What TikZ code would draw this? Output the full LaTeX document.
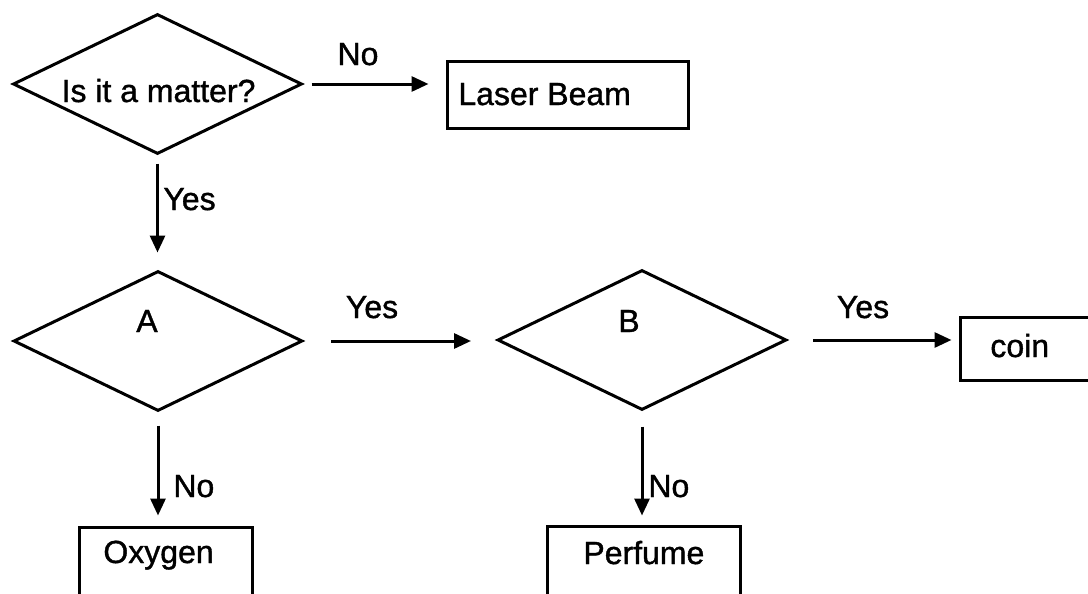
\documentclass[tikz,border=0pt]{standalone}
\usepackage{fontspec}
\setmainfont{Liberation Sans}
\newfontfamily\heavyfont{Liberation Sans}[FakeBold=1.2]
\usetikzlibrary{shapes.geometric,arrows.meta}
\tikzset{
  ln/.style={line width=1.5pt, line join=miter},
  dia/.style={ln, draw, shape=diamond, minimum width=144.5pt, minimum height=70pt, inner sep=0pt},
  boxnode/.style={ln, draw, shape=rectangle, inner sep=0pt},
  txt/.style={inner sep=0pt, font=\heavyfont\fontsize{16}{19}\selectfont},
  arr/.style={ln, -{Triangle[length=8.5pt,width=7.5pt]}},
}
\begin{document}
\begin{tikzpicture}[x=0.5pt, y=-0.5pt]
\useasboundingbox (0,0) rectangle (1088,594);
\clip (0,0) rectangle (1088,594);
\fill[white] (0,0) rectangle (1088,594);

% decision shapes
\node[dia] (d1) at (157.5,84) {};
\node[dia] (dA) at (158,341) {};
\node[dia] (dB) at (642,340) {};

% boxes
\node[boxnode, minimum width=120.5pt, minimum height=33.5pt] (laser) at (567.5,94.5) {};
\node[boxnode, minimum width=89pt, minimum height=31.5pt] (coin) at (1049,348.5) {};
\node[boxnode, minimum width=86.5pt, minimum height=45pt] (oxy) at (165.5,572) {};
\node[boxnode, minimum width=96.5pt, minimum height=45pt] (perf) at (643.5,571) {};

% texts
\node[txt, anchor=base] (t1) at (158.5,102) {Is it a matter?};
\node[txt, anchor=base] (tA) at (147,332) {A};
\node[txt, anchor=base] (tB) at (629,332) {B};
\node[txt, anchor=base west] (tlaser) at (458,105) {Laser Beam};
\node[txt, anchor=base west] (tcoin) at (990,357) {coin};
\node[txt, anchor=base west] (toxy) at (103,563) {Oxygen};
\node[txt, anchor=base west] (tperf) at (583,564) {Perfume};

% connectors
\draw[arr, shorten <=4pt, shorten >=8.5pt] (d1.east) -- (d1.east -| laser.west);
\draw[arr, shorten <=4pt, shorten >=8.5pt] (d1.south) -- (d1.south |- dA.north);
\draw[arr, shorten <=13.5pt, shorten >=12.5pt] (dA.east) -- (dA.east -| dB.west);
\draw[arr, shorten <=12.5pt, shorten >=3.5pt] (dB.east) -- (dB.east -| coin.west);
\draw[arr, shorten <=6.5pt, shorten >=5pt] (dA.south) -- (dA.south |- oxy.north);
\draw[arr, shorten <=7.5pt, shorten >=4.5pt] (dB.south) -- (dB.south |- perf.north);

% connector labels
\node[txt, anchor=base] (lno1) at (358,65) {No};
\node[txt, anchor=base west] (lyes1) at (163,210) {Yes};
\node[txt, anchor=base] (lyes2) at (372,318) {Yes};
\node[txt, anchor=base] (lyes3) at (863,318) {Yes};
\node[txt, anchor=base west] (lno2) at (173,497) {No};
\node[txt, anchor=base west] (lno3) at (648,497) {No};
\end{tikzpicture}
\end{document}
